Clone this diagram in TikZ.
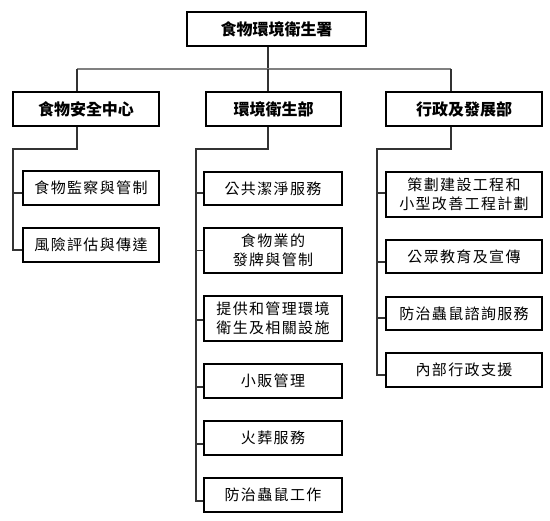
\documentclass[tikz,border=0pt]{standalone}
\usepackage{fontspec}
\usetikzlibrary{calc}
\newfontfamily\cjkhead{Noto Sans CJK TC}
\newfontfamily\cjkbody[LetterSpace=9]{Noto Sans CJK TC}
\begin{document}
\begin{tikzpicture}[x=1pt,y=-1pt,
  hbox/.style={draw=black,line width=1.2pt,fill=white,inner sep=0pt,minimum height=34pt,
    font=\cjkhead\bfseries\fontsize{16pt}{19pt}\selectfont},
  cbox/.style={draw=black,line width=1.1pt,fill=white,inner sep=0pt,align=center,
    font=\cjkbody\fontsize{15pt}{19pt}\selectfont},
  conn/.style={draw=black!80,line width=1.1pt},
  bar/.style={draw=black!50,line width=2.2pt}]
\useasboundingbox (0,0) rectangle (550,521);
% top
\node[hbox,minimum width=179pt] (top) at (276.5,29) {食物環境衛生署};
% divisions
\node[hbox,minimum width=146pt] (d1) at (86,109) {食物安全中心};
\node[hbox,minimum width=135pt] (d2) at (273.5,109) {環境衛生部};
\node[hbox,minimum width=156pt] (d3) at (464,109) {行政及發展部};
% column 1
\node[cbox,minimum width=136pt,minimum height=34pt] (c11) at (91,188) {食物監察與管制};
\node[cbox,minimum width=136pt,minimum height=34pt] (c12) at (91,245) {風險評估與傳達};
% column 2
\node[cbox,minimum width=138pt,minimum height=33pt] (c21) at (273,188.5) {公共潔淨服務};
\node[cbox,minimum width=138pt,minimum height=45pt] (c22) at (273,250.5) {食物業的\\發牌與管制};
\node[cbox,minimum width=138pt,minimum height=45pt] (c23) at (273,318.5) {提供和管理環境\\衛生及相關設施};
\node[cbox,minimum width=138pt,minimum height=34pt] (c24) at (273,381) {小販管理};
\node[cbox,minimum width=138pt,minimum height=34pt] (c25) at (273,438) {火葬服務};
\node[cbox,minimum width=138pt,minimum height=34pt] (c26) at (273,495) {防治蟲鼠工作};
% column 3
\node[cbox,minimum width=156pt,minimum height=45pt] (c31) at (464,194.5) {策劃建設工程和\\小型改善工程計劃};
\node[cbox,minimum width=156pt,minimum height=33pt] (c32) at (464,256.5) {公眾教育及宣傳};
\node[cbox,minimum width=156pt,minimum height=33pt] (c33) at (464,313.5) {防治蟲鼠諮詢服務};
\node[cbox,minimum width=156pt,minimum height=34pt] (c34) at (464,370) {內部行政支援};
% junction coordinates
\coordinate (j0) at (268,69);
\coordinate (hl) at (77,69);
\coordinate (hr) at (451,69);
\coordinate (e1) at (77,149);
\coordinate (s1) at (13,149);
\coordinate (e2) at (268,149);
\coordinate (s2) at (196,149);
\coordinate (e3) at (451,149);
\coordinate (s3) at (377,149);
% branch points
\coordinate (b11) at ($(c11.west)+(0,5)$);
\coordinate (b12) at ($(c12.west)+(0,5)$);
\coordinate (b21) at ($(c21.west)+(0,4.5)$);
\coordinate (b22) at (c22.west);
\coordinate (b23) at ($(c23.west)+(0,1.5)$);
\coordinate (b24) at ($(c24.west)+(0,6)$);
\coordinate (b25) at ($(c25.west)+(0,6)$);
\coordinate (b26) at ($(c26.west)+(0,6)$);
\coordinate (b31) at ($(c31.west)+(0,-1.5)$);
\coordinate (b32) at ($(c32.west)+(0,5.5)$);
\coordinate (b33) at ($(c33.west)+(0,4.5)$);
\coordinate (b34) at ($(c34.west)+(0,5)$);
% top connectors
\draw[conn] (top.south -| j0) -- (j0);
\draw[bar] (hl) -- (hr);
\draw[conn] (hl) -- (d1.north -| hl);
\draw[conn] (j0) -- (d2.north -| j0);
\draw[conn] (hr) -- (d3.north -| hr);
% column 1
\draw[conn] (d1.south -| e1) -- (e1) -- (s1) -- (s1 |- b12) -- (b12);
\draw[conn] (s1 |- b11) -- (b11);
% column 2
\draw[conn] (d2.south -| e2) -- (e2) -- (s2) -- (s2 |- b26) -- (b26);
\foreach \b in {b21,b22,b23,b24,b25} \draw[conn] (s2 |- \b) -- (\b);
% column 3
\draw[conn] (d3.south -| e3) -- (e3) -- (s3) -- (s3 |- b34) -- (b34);
\foreach \b in {b31,b32,b33} \draw[conn] (s3 |- \b) -- (\b);
\end{tikzpicture}
\end{document}
